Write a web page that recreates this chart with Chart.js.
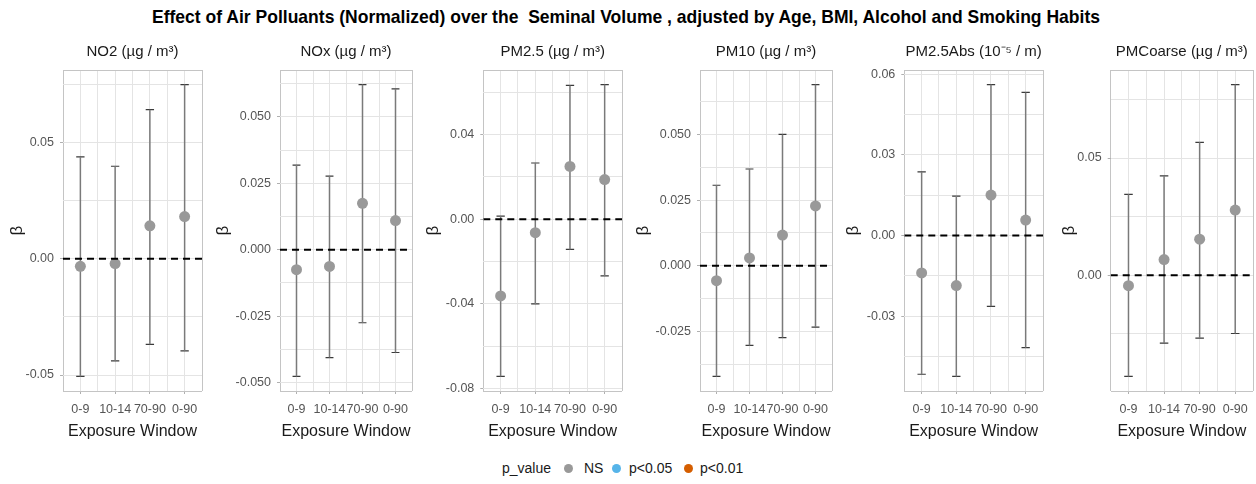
<!DOCTYPE html>
<html>
<head>
<meta charset="utf-8">
<script src="https://cdn.jsdelivr.net/npm/chart.js@4.4.1/dist/chart.umd.min.js"></script>
<style>
  html, body { margin: 0; padding: 0; background: #fff; }
  #wrap { position: relative; width: 1256px; height: 484px; overflow: hidden; font-family: 'Liberation Sans', Arial, sans-serif; }
  #title { position: absolute; top: 6px; left: 152px; white-space: nowrap; font: bold 19px 'Liberation Sans Narrow', 'Liberation Sans', sans-serif; color: #000; transform-origin: left top; }
  .panel { position: absolute; top: 30px; }
  .leg { position: absolute; top: 460px; font-size: 14px; line-height: 16px; color: #1a1a1a; white-space: nowrap; }
  .dot { position: absolute; top: 464px; width: 9px; height: 9px; border-radius: 50%; }
</style>
</head>
<body>
<div id="wrap">
  <div id="title">Effect of Air Polluants (Normalized) over the&nbsp; Seminal Volume , adjusted by Age, BMI, Alcohol and Smoking Habits</div>
  <div class="leg" style="left:502px">p_value</div>
  <span class="dot" style="left:564px;background:#999999"></span>
  <div class="leg" style="left:584px">NS</div>
  <span class="dot" style="left:612px;background:#56B4E9"></span>
  <div class="leg" style="left:629px">p&lt;0.05</div>
  <span class="dot" style="left:684px;background:#D55E00"></span>
  <div class="leg" style="left:700px">p&lt;0.01</div>
</div>
<script>
// --- DATOS ---
const categories = ['0-9', '10-14', '70-90', '0-90'];
const pollutants = ['NO2 (µg / m³)', 'NOx (µg / m³)', 'PM2.5 (µg / m³)', 'PM10 (µg / m³)', 'PM2.5Abs (10⁻⁵ / m)', 'PMCoarse (µg / m³)'];

const betaNO2 = [-0.0033, -0.0021, 0.0141, 0.0181];
const lowerNO2 = [-0.0506, -0.0439, -0.0368, -0.0396];
const upperNO2 = [0.0437, 0.0397, 0.0640, 0.0748];

const betaNOx = [-0.0075, -0.0063, 0.0175, 0.0110];
const lowerNOx = [-0.0477, -0.0406, -0.0275, -0.0387];
const upperNOx = [0.0319, 0.0277, 0.0622, 0.0606];

const betaPM25 = [-0.0362, -0.0064, 0.0249, 0.0187];
const lowerPM25 = [-0.0742, -0.0400, -0.0143, -0.0268];
const upperPM25 = [0.0014, 0.0265, 0.0631, 0.0635];

const betaPM10 = [-0.0057, 0.0030, 0.0117, 0.0228];
const lowerPM10 = [-0.0422, -0.0304, -0.0274, -0.0234];
const upperPM10 = [0.0307, 0.0369, 0.0501, 0.0691];

const betaPM25Abs = [-0.0139, -0.0186, 0.0151, 0.0058];
const lowerPM25Abs = [-0.0516, -0.0524, -0.0263, -0.0417];
const upperPM25Abs = [0.0237, 0.0147, 0.0562, 0.0533];

const betaPMCoarse = [-0.0044, 0.0067, 0.0154, 0.0278];
const lowerPMCoarse = [-0.0431, -0.0289, -0.0268, -0.0248];
const upperPMCoarse = [0.0345, 0.0424, 0.0567, 0.0813];

const yTicksNO2 = ['-0.05', '0.00', '0.05'];
const yTicksNOx = ['-0.050', '-0.025', '0.000', '0.025', '0.050'];
const yTicksPM25 = ['-0.08', '-0.04', '0.00', '0.04'];
const yTicksPM10 = ['-0.025', '0.000', '0.025', '0.050'];
const yTicksPM25Abs = ['-0.03', '0.00', '0.03', '0.06'];
const yTicksPMCoarse = ['0.00', '0.05'];

// --- POSICIONES DE LOS PANELES (px) ---
const betaX = [16.7, 223, 432.7, 643, 852.7, 1069];
const plotLeft = [63, 280, 483.3, 700, 904.3, 1110.7];
const plotRight = [201, 411, 621, 831, 1042.3, 1251.7];

const FONT = "'Liberation Sans', Arial, sans-serif";
const GRID = '#e4e4e4';
const BORDER = '#c4c4c4';
const CAP = 0.12;
const X_TICK_PAD = 8;

const panels = [
  [betaNO2, lowerNO2, upperNO2, yTicksNO2],
  [betaNOx, lowerNOx, upperNOx, yTicksNOx],
  [betaPM25, lowerPM25, upperPM25, yTicksPM25],
  [betaPM10, lowerPM10, upperPM10, yTicksPM10],
  [betaPM25Abs, lowerPM25Abs, upperPM25Abs, yTicksPM25Abs],
  [betaPMCoarse, lowerPMCoarse, upperPMCoarse, yTicksPMCoarse]
];

const wrap = document.getElementById('wrap');

// titulo: ajustar ancho como en la referencia
const titleEl = document.getElementById('title');
titleEl.style.transform = 'scaleX(' + (948 / titleEl.getBoundingClientRect().width) + ')';

panels.forEach(([est, lo, hi, tickLabels], p) => {
  // limites con 5% de expansion como ggplot
  const dMin = Math.min(...lo), dMax = Math.max(...hi);
  const pad = (dMax - dMin) * 0.05;
  const yMin = dMin - pad, yMax = dMax + pad;

  const majors = tickLabels.map(Number);
  const step = majors.length > 1 ? majors[1] - majors[0] : 0.05;
  const yTicks = [yMin, yMax];
  for (let v = majors[0] - step * 2; v <= yMax + 1e-9; v += step / 2) {
    if (v > yMin + 1e-9 && v < yMax - 1e-9) yTicks.push(+v.toFixed(6));
  }
  yTicks.sort((a, b) => a - b);
  const labelFor = v => {
    const i = majors.findIndex(m => Math.abs(m - v) < 1e-7);
    return i >= 0 ? tickLabels[i] : '';
  };

  const canvasLeft = Math.round(betaX[p] - 10);
  const yWidth = plotLeft[p] - canvasLeft;
  // el eje x reserva X_TICK_PAD a la derecha
  const width = Math.round(plotRight[p] - canvasLeft + 1 + X_TICK_PAD);

  const div = document.createElement('div');
  div.className = 'panel';
  div.style.left = canvasLeft + 'px';
  const canvas = document.createElement('canvas');
  canvas.width = width;
  canvas.height = 420;
  canvas.style.width = width + 'px';
  canvas.style.height = '420px';
  div.appendChild(canvas);
  wrap.appendChild(div);

  const xTicks = [0.5, 1, 1.5, 2, 2.5, 3, 3.5, 4, 4.5];

  const stems = [], caps = [];
  categories.forEach((c, i) => {
    const x = i + 1;
    stems.push({ x: x, y: lo[i] }, { x: x, y: hi[i] }, { x: x, y: null });
    caps.push({ x: x - CAP, y: lo[i] }, { x: x + CAP, y: lo[i] }, { x: x, y: null },
              { x: x - CAP, y: hi[i] }, { x: x + CAP, y: hi[i] }, { x: x, y: null });
  });

  new Chart(canvas.getContext('2d'), {
    type: 'scatter',
    data: {
      datasets: [
        {
          data: [{ x: 0.5, y: 0 }, { x: 4.5, y: 0 }],
          showLine: true, borderColor: '#000', borderWidth: 2, borderDash: [7, 5],
          pointRadius: 0, order: 0
        },
        {
          data: est.map((v, i) => ({ x: i + 1, y: v })),
          pointRadius: 5.5, pointBackgroundColor: '#999999', pointBorderWidth: 0, order: 1
        },
        {
          data: stems, showLine: true, spanGaps: false, borderColor: '#7a7a7a', borderWidth: 1.5,
          pointRadius: 0, order: 2
        },
        {
          data: caps, showLine: true, spanGaps: false, borderColor: '#3a3a3a', borderWidth: 1.2,
          pointRadius: 0, order: 2
        }
      ]
    },
    options: {
      responsive: false,
      animation: false,
      layout: { padding: { left: 0, right: 1, top: 0, bottom: 0 } },
      plugins: {
        legend: { display: false },
        tooltip: { enabled: false },
        title: {
          display: true, text: pollutants[p], fullSize: false, color: '#1a1a1a',
          font: { family: FONT, size: 15, weight: 'normal' },
          padding: { top: 12.5, bottom: 9.5 }
        }
      },
      scales: {
        x: {
          type: 'linear', min: 0.5, max: 4.5,
          afterBuildTicks: s => { s.ticks = xTicks.map(v => ({ value: v })); },
          afterFit: s => { s.height = 59; },
          border: { display: false },
          grid: {
            color: c => (c.tick && (c.tick.value === 0.5 || c.tick.value === 4.5)) ? BORDER : GRID,
            lineWidth: 1,
            tickLength: 3,
            tickColor: c => (c.tick && Number.isInteger(c.tick.value) && c.tick.value >= 1 && c.tick.value <= 4) ? '#b0b0b0' : 'rgba(0,0,0,0)'
          },
          ticks: {
            autoSkip: false, maxRotation: 0, padding: X_TICK_PAD, color: '#555555',
            font: { family: FONT, size: 12.5 },
            callback: v => (Number.isInteger(v) && v >= 1 && v <= 4) ? categories[v - 1] : ''
          },
          title: {
            display: true, text: 'Exposure Window', color: '#1a1a1a',
            font: { family: FONT, size: 16 },
            padding: { top: 0, bottom: 8.5 }
          }
        },
        y: {
          min: yMin, max: yMax,
          afterBuildTicks: s => { s.ticks = yTicks.map(v => ({ value: v })); },
          afterFit: s => { s.width = yWidth; },
          border: { display: false },
          grid: {
            color: c => (c.tick && (c.tick.value === yMin || c.tick.value === yMax)) ? BORDER : GRID,
            lineWidth: 1,
            tickLength: 3,
            tickColor: c => (c.tick && labelFor(c.tick.value) !== '') ? '#b0b0b0' : 'rgba(0,0,0,0)'
          },
          ticks: {
            autoSkip: false, padding: 6, color: '#555555',
            font: { family: FONT, size: 12.5 },
            callback: v => labelFor(v)
          },
          title: {
            display: true, text: 'β', color: '#1a1a1a',
            font: { family: FONT, size: 17 },
            padding: { top: 0, bottom: 0 }
          }
        }
      }
    }
  });
});
</script>
</body>
</html>
